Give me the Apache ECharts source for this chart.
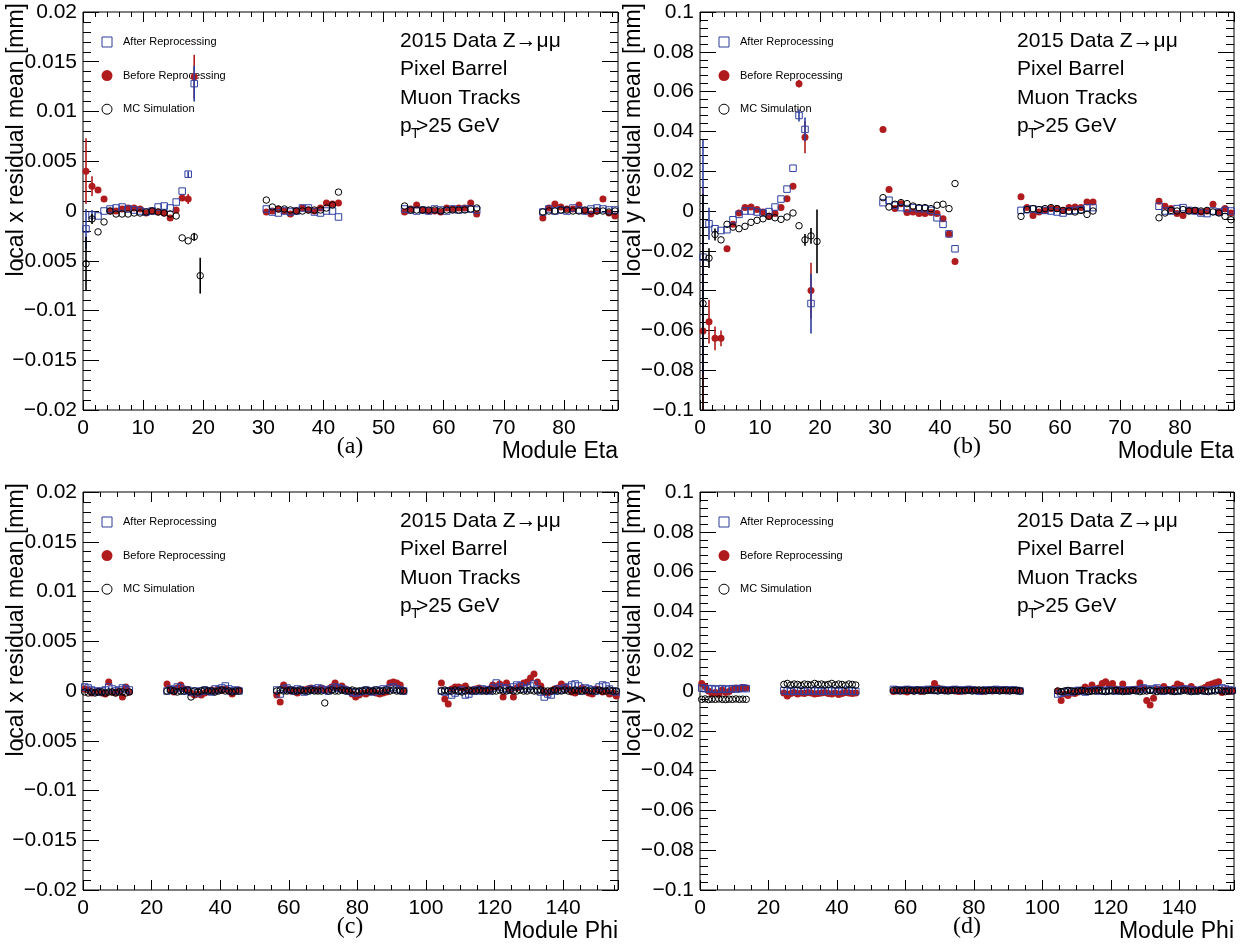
<!DOCTYPE html>
<html><head><meta charset="utf-8">
<script src="https://cdn.jsdelivr.net/npm/echarts@6/dist/echarts.min.js"></script>
<style>html,body{margin:0;padding:0;background:#fff}#c{width:1246px;height:947px}</style>
</head><body><div id="c"></div>
<script>
// ---------------- DATA ----------------
// occupied bins (module index ranges)
const etaGroups = [[0,19],[30,42],[53,65],[76,88]];
const phiGroups = [[0,13],[24,45],[56,93],[104,155]];

// (a) local x residual mean vs module eta [mm]
const afterA = [
  -0.0018,-0.0004,-0.0005,0.0000,0.0002,0.0003,0.0004,0.0002,0.0001,0.0000,-0.0001,0.0000,0.0004,0.0005,0.0003,0.0009,0.0020,0.0037,0.0128,null,
  0.0002,-0.0001,-0.0002,0.0000,-0.0001,0.0000,0.0003,0.0003,-0.0001,-0.0002,0.0000,0.0000,-0.0006,
  0.0002,0.0001,0.0000,0.0001,0.0000,0.0002,0.0001,0.0000,0.0002,0.0001,0.0002,0.0002,0.0001,
  -0.0001,0.0002,0.0000,0.0001,0.0000,0.0003,0.0001,0.0000,0.0002,0.0003,0.0002,0.0001,0.0001];
const beforeA = [
  0.0040,0.0025,0.0021,0.0012,0.0000,0.0000,0.0002,0.0003,0.0003,0.0002,-0.0002,0.0000,-0.0001,-0.0002,-0.0007,0.0001,0.0013,0.0012,0.0135,null,
  -0.0001,0.0000,0.0002,0.0000,-0.0003,0.0000,0.0003,0.0001,0.0000,0.0003,0.0008,0.0007,0.0008,
  -0.0001,0.0002,0.0006,0.0001,0.0000,0.0000,-0.0001,0.0003,0.0002,0.0003,0.0003,0.0008,-0.0003,
  -0.0007,0.0003,0.0007,0.0004,0.0002,0.0002,0.0006,0.0000,-0.0003,0.0000,0.0012,-0.0002,-0.0005];
const mcA = [
  -0.0053,-0.0008,-0.0021,-0.0011,0.0000,-0.0003,-0.0003,-0.0003,-0.0002,-0.0002,-0.0001,0.0000,-0.0001,-0.0002,-0.0003,-0.0005,-0.0027,-0.0030,-0.0026,-0.0065,
  0.0011,0.0004,0.0002,0.0002,0.0001,0.0000,0.0000,0.0001,0.0001,0.0001,0.0003,0.0006,0.0019,
  0.0005,0.0001,0.0001,0.0001,0.0001,0.0001,0.0000,0.0001,0.0001,0.0001,0.0001,0.0002,0.0003,
  -0.0001,0.0000,0.0000,0.0001,0.0001,0.0000,0.0000,0.0001,0.0000,0.0000,0.0000,-0.0001,0.0000];
const errAfterA  = [[0,0.0020],[1,0.0005],[17,0.0003],[18,0.0018]];
const errBeforeA = [[0,0.0033],[1,0.0010],[17,0.0005],[18,0.0022]];
const errMcA     = [[0,0.0027],[1,0.0005],[18,0.0004],[19,0.0018]];

// (b) local y residual mean vs module eta [mm]
const afterB = [
  -0.0232,-0.0064,-0.0089,-0.0098,-0.0094,-0.0044,-0.0017,0.0000,0.0000,-0.0005,-0.0010,-0.0003,0.0020,0.0060,0.0110,0.0215,0.0480,0.0410,-0.0465,null,
  0.0042,0.0054,0.0029,0.0017,0.0012,0.0017,0.0012,0.0012,0.0003,-0.0034,-0.0067,-0.0115,-0.0190,
  0.0003,0.0007,0.0010,0.0005,0.0003,0.0000,-0.0005,-0.0010,0.0000,0.0003,0.0007,0.0017,0.0017,
  0.0024,0.0000,0.0000,0.0012,0.0017,0.0003,0.0000,-0.0010,-0.0013,0.0000,-0.0005,0.0003,0.0000];
const beforeB = [
  -0.0603,-0.0556,-0.0640,-0.0640,-0.0190,-0.0067,-0.0010,0.0017,0.0020,0.0008,-0.0005,-0.0027,-0.0013,0.0017,0.0062,0.0125,0.0640,0.0370,-0.0400,null,
  0.0410,0.0108,0.0012,0.0037,-0.0008,-0.0005,-0.0013,-0.0013,-0.0008,-0.0013,-0.0039,-0.0115,-0.0254,
  0.0071,0.0017,-0.0022,-0.0005,0.0003,0.0012,0.0012,0.0003,0.0017,0.0020,0.0017,0.0045,0.0045,
  0.0049,0.0024,0.0012,-0.0013,-0.0022,0.0003,0.0000,-0.0005,0.0000,0.0034,-0.0005,0.0012,-0.0010];
const mcB = [
  -0.0465,-0.0237,-0.0118,-0.0145,-0.0067,-0.0081,-0.0089,-0.0077,-0.0057,-0.0047,-0.0039,-0.0027,-0.0034,-0.0042,-0.0030,-0.0010,-0.0074,-0.0145,-0.0125,-0.0153,
  0.0067,0.0020,0.0034,0.0042,0.0037,0.0025,0.0017,0.0017,0.0012,0.0029,0.0034,0.0012,0.0138,
  -0.0027,0.0007,0.0012,0.0007,0.0012,0.0017,0.0012,0.0003,0.0000,-0.0005,0.0003,-0.0017,0.0000,
  -0.0034,-0.0010,0.0003,0.0000,0.0007,0.0000,0.0003,0.0000,0.0003,-0.0005,-0.0010,-0.0027,-0.0044];
const errAfterB  = [[0,0.0590],[1,0.0080],[16,0.0030],[17,0.0060],[18,0.0150]];
const errBeforeB = [[0,0.0720],[1,0.0110],[2,0.0060],[3,0.0040],[16,0.0020],[17,0.0080],[18,0.0140]];
const errMcB     = [[0,0.0550],[1,0.0050],[2,0.0030],[17,0.0030],[18,0.0040],[19,0.0160]];

// (c) local x residual mean vs module phi [mm]
const afterC = [
  0.0004,0.0003,0.0001,0.0000,-0.0001,0.0000,0.0001,0.0004,0.0002,0.0000,0.0001,0.0003,0.0002,0.0001,
  0.0000,0.0002,0.0001,0.0004,0.0003,0.0000,0.0001,-0.0001,0.0000,-0.0002,0.0000,0.0001,0.0000,-0.0001,0.0002,0.0001,0.0003,0.0005,0.0002,0.0000,0.0001,0.0000,
  0.0001,-0.0003,0.0002,0.0003,0.0001,0.0000,0.0002,0.0001,-0.0001,0.0000,0.0002,0.0001,0.0003,0.0002,0.0001,0.0000,0.0002,0.0004,0.0003,0.0002,0.0001,0.0000,-0.0001,-0.0002,-0.0001,0.0000,0.0001,0.0000,-0.0001,0.0001,0.0000,0.0002,0.0001,0.0003,0.0004,0.0002,0.0001,0.0000,
  0.0000,-0.0001,0.0000,-0.0004,-0.0002,0.0000,0.0001,-0.0004,-0.0003,0.0000,0.0001,0.0000,0.0002,0.0001,0.0000,0.0003,0.0008,0.0004,0.0002,0.0003,0.0001,0.0004,0.0006,0.0005,0.0002,0.0003,0.0005,0.0007,0.0002,-0.0001,-0.0006,-0.0003,-0.0004,0.0000,0.0002,0.0001,0.0003,0.0004,0.0006,0.0007,0.0005,0.0000,0.0003,0.0002,0.0001,0.0000,0.0004,0.0006,0.0005,0.0002,0.0000,-0.0001];
const beforeC = [
  0.0002,0.0001,-0.0002,-0.0001,0.0000,-0.0002,-0.0003,0.0009,-0.0001,-0.0002,0.0000,-0.0006,0.0004,-0.0001,
  0.0007,0.0001,-0.0001,0.0003,0.0006,0.0002,0.0001,-0.0002,-0.0004,-0.0003,-0.0004,-0.0002,0.0000,0.0001,0.0000,0.0002,0.0001,0.0002,0.0000,-0.0003,0.0000,0.0001,
  -0.0004,-0.0011,0.0006,0.0002,0.0000,0.0001,-0.0002,0.0000,0.0001,0.0002,0.0003,0.0002,0.0001,0.0003,0.0001,0.0002,0.0004,0.0008,0.0003,0.0005,0.0002,0.0000,-0.0003,-0.0006,-0.0004,-0.0002,-0.0003,-0.0001,0.0000,-0.0002,-0.0003,-0.0002,-0.0001,0.0008,0.0009,0.0008,0.0006,0.0000,
  0.0008,-0.0008,-0.0013,0.0002,0.0004,0.0004,0.0003,0.0005,0.0000,0.0001,0.0002,0.0003,0.0001,0.0000,0.0002,0.0006,0.0004,0.0007,-0.0006,0.0008,0.0002,-0.0006,0.0003,0.0005,0.0008,0.0009,0.0013,0.0017,0.0009,0.0005,-0.0001,-0.0002,0.0000,0.0002,0.0003,0.0007,0.0004,0.0002,-0.0001,-0.0002,0.0001,0.0003,0.0000,-0.0002,-0.0003,0.0002,0.0001,-0.0001,0.0000,-0.0003,-0.0002,-0.0005];
const mcC = [
  -0.0001,-0.0002,-0.0001,-0.0002,-0.0001,-0.0001,-0.0002,-0.0001,-0.0001,-0.0002,-0.0001,-0.0001,-0.0002,-0.0001,
  0.0000,0.0001,0.0000,-0.0001,0.0000,0.0000,0.0001,-0.0006,0.0000,-0.0001,0.0000,0.0001,0.0000,0.0000,-0.0001,0.0000,0.0001,0.0000,0.0000,-0.0001,0.0000,0.0000,
  0.0000,0.0001,0.0000,0.0000,0.0001,0.0000,0.0000,0.0001,0.0000,0.0000,0.0001,0.0000,0.0000,0.0000,-0.0012,0.0000,0.0001,0.0000,0.0000,0.0001,0.0000,0.0000,0.0001,0.0000,0.0000,0.0000,0.0001,0.0000,0.0000,0.0001,0.0000,0.0000,0.0001,0.0000,0.0001,0.0000,0.0000,0.0000,
  0.0000,0.0001,0.0000,0.0000,0.0001,0.0000,-0.0001,0.0000,0.0001,0.0000,0.0000,0.0001,0.0000,0.0000,0.0001,0.0000,0.0000,0.0001,0.0000,0.0000,0.0001,0.0000,0.0000,0.0001,0.0000,0.0000,0.0001,0.0000,0.0000,0.0001,0.0000,0.0000,0.0000,0.0001,0.0000,0.0000,0.0001,0.0000,0.0000,0.0001,0.0000,0.0000,0.0001,0.0000,0.0000,0.0000,0.0001,0.0000,0.0000,0.0001,0.0000,0.0000];

// (d) local y residual mean vs module phi [mm]
const afterD = [
  0.0015,0.0012,0.0010,0.0012,0.0008,0.0010,0.0012,0.0008,0.0010,0.0012,0.0010,0.0012,0.0015,0.0012,
  0.0002,0.0000,-0.0002,0.0000,0.0002,0.0000,-0.0002,0.0000,0.0002,0.0000,0.0000,-0.0002,0.0000,0.0002,0.0000,0.0000,-0.0002,0.0000,0.0002,0.0000,0.0000,-0.0002,
  0.0008,0.0005,0.0003,0.0005,0.0008,0.0005,0.0003,0.0005,0.0003,0.0005,0.0008,0.0005,0.0003,0.0005,0.0008,0.0005,0.0003,0.0005,0.0008,0.0005,0.0003,0.0005,0.0008,0.0005,0.0003,0.0000,0.0003,0.0005,0.0003,0.0005,0.0008,0.0005,0.0003,0.0005,0.0003,0.0005,0.0003,0.0000,
  -0.0015,-0.0010,-0.0005,0.0000,-0.0005,0.0000,0.0003,0.0000,-0.0005,0.0000,0.0003,0.0005,0.0000,0.0003,0.0000,0.0005,0.0003,0.0000,0.0005,0.0003,0.0000,0.0005,0.0003,0.0005,0.0008,0.0015,0.0010,0.0005,0.0010,0.0015,0.0005,0.0000,0.0003,0.0005,0.0003,0.0000,0.0005,0.0010,0.0008,0.0005,0.0000,0.0003,0.0005,0.0000,0.0003,0.0005,0.0008,0.0010,0.0015,0.0010,0.0005,0.0003];
const beforeD = [
  0.0038,0.0022,0.0000,-0.0012,-0.0008,-0.0015,0.0005,-0.0008,-0.0003,0.0008,0.0015,0.0010,0.0018,0.0015,
  -0.0010,-0.0025,-0.0012,-0.0008,-0.0015,-0.0010,-0.0012,-0.0008,-0.0010,-0.0015,-0.0012,-0.0010,-0.0008,-0.0012,-0.0015,-0.0010,-0.0018,-0.0012,-0.0008,-0.0010,-0.0012,-0.0010,
  -0.0003,0.0000,0.0005,0.0000,-0.0005,0.0003,0.0000,0.0005,-0.0003,0.0000,0.0005,0.0010,0.0038,0.0015,0.0005,0.0000,0.0003,0.0008,0.0000,-0.0003,0.0005,0.0000,0.0003,0.0008,0.0005,0.0000,-0.0003,0.0003,0.0005,0.0000,0.0003,0.0008,0.0005,0.0000,0.0003,0.0005,0.0000,0.0003,
  0.0000,-0.0048,-0.0015,-0.0022,-0.0010,-0.0012,-0.0005,0.0000,0.0020,0.0008,0.0030,0.0010,0.0015,0.0038,0.0047,0.0030,0.0038,0.0010,0.0005,0.0035,0.0005,0.0000,0.0008,0.0010,0.0040,0.0012,-0.0048,-0.0070,-0.0037,0.0010,0.0005,0.0022,0.0008,0.0000,0.0015,0.0035,0.0028,0.0010,0.0005,0.0022,0.0008,0.0000,0.0010,0.0018,0.0030,0.0035,0.0042,0.0047,-0.0008,0.0005,-0.0003,0.0000];
const mcD = [
  -0.0042,-0.0040,-0.0043,-0.0041,-0.0042,-0.0040,-0.0042,-0.0043,-0.0041,-0.0042,-0.0040,-0.0042,-0.0041,-0.0042,
  0.0033,0.0038,0.0030,0.0035,0.0033,0.0028,0.0035,0.0033,0.0030,0.0038,0.0033,0.0035,0.0030,0.0033,0.0038,0.0030,0.0035,0.0033,0.0028,0.0035,0.0033,0.0030,
  0.0003,0.0005,0.0000,0.0003,0.0005,0.0003,0.0000,0.0005,0.0003,0.0000,0.0003,0.0005,0.0003,0.0000,0.0005,0.0003,0.0000,0.0003,0.0005,0.0003,0.0000,0.0003,0.0005,0.0000,0.0003,0.0005,0.0003,0.0000,0.0003,0.0005,0.0003,0.0000,0.0003,0.0005,0.0000,0.0003,0.0003,0.0000,
  0.0000,-0.0003,0.0000,0.0003,0.0000,-0.0003,0.0000,0.0003,0.0000,-0.0003,0.0000,0.0000,0.0003,0.0000,-0.0003,0.0000,0.0000,0.0003,0.0000,-0.0003,0.0000,0.0000,0.0003,0.0000,-0.0003,0.0000,0.0000,0.0003,0.0000,-0.0003,0.0000,0.0000,0.0003,0.0000,-0.0003,0.0000,0.0000,0.0003,0.0000,-0.0003,0.0000,0.0000,0.0003,0.0000,-0.0003,0.0000,0.0000,0.0003,0.0000,-0.0003,0.0000,0.0000];

const legendLabels = ['After Reprocessing', 'Before Reprocessing', 'MC Simulation'];
const infoLines = ['2015 Data Z\u2192\u03bc\u03bc', 'Pixel Barrel', 'Muon Tracks'];
const ptLine = ['p', 'T', '>25 GeV'];

// ---------------- BUILD ----------------
const BLUE = '#2f3f9f', RED = '#b01c1e', BLACK = '#000';
const FONT = '"Liberation Sans", Arial, Helvetica, sans-serif';

function toPoints(groups, vals) {
  const out = []; let k = 0;
  for (const [a, b] of groups) for (let i = a; i <= b; i++) { const v = vals[k++]; if (v != null) out.push([i + 0.5, v]); }
  return out;
}
function errPoints(groups, vals, errs) {
  const pts = toPoints(groups, vals);
  return errs.map(([bin, e]) => { const p = pts.find(q => q[0] === bin + 0.5); return p ? [p[0], p[1], e] : null; }).filter(Boolean);
}
const fmt = v => String(+(+v).toFixed(4)).replace('-', '\u2212');

const panels = [
  {left: 83, top: 12, w: 535, h: 398, xmax: 89, xint: 10, xminor: 5, ymax: 0.02, yint: 0.005, groups: etaGroups,
   after: afterA, before: beforeA, mc: mcA, eA: errAfterA, eB: errBeforeA, eM: errMcA,
   ytitle: 'local x residual mean [mm]', xtitle: 'Module Eta', tag: '(a)'},
  {left: 700, top: 12, w: 534, h: 398, xmax: 89, xint: 10, xminor: 5, ymax: 0.1, yint: 0.02, groups: etaGroups,
   after: afterB, before: beforeB, mc: mcB, eA: errAfterB, eB: errBeforeB, eM: errMcB,
   ytitle: 'local y residual mean [mm]', xtitle: 'Module Eta', tag: '(b)'},
  {left: 83, top: 492, w: 535, h: 398, xmax: 156, xint: 20, xminor: 4, ymax: 0.02, yint: 0.005, groups: phiGroups,
   after: afterC, before: beforeC, mc: mcC, eA: [], eB: [], eM: [],
   ytitle: 'local x residual mean [mm]', xtitle: 'Module Phi', tag: '(c)'},
  {left: 700, top: 492, w: 534, h: 398, xmax: 156, xint: 20, xminor: 4, ymax: 0.1, yint: 0.02, groups: phiGroups,
   after: afterD, before: beforeD, mc: mcD, eA: [], eB: [], eM: [],
   ytitle: 'local y residual mean [mm]', xtitle: 'Module Phi', tag: '(d)'}
];

const grid = [], xAxis = [], yAxis = [], series = [], graphic = [];
panels.forEach((p, g) => {
  grid.push({left: p.left, top: p.top, width: p.w, height: p.h, show: true, borderColor: '#000', borderWidth: 1, backgroundColor: 'transparent'});
  const xBase = {type: 'value', gridIndex: g, min: 0, max: p.xmax, interval: p.xint,
    splitLine: {show: false}, axisLine: {show: false, onZero: false},
    axisTick: {show: true, inside: true, length: 10, lineStyle: {color: '#000', width: 1}},
    minorTick: {show: true, splitNumber: p.xminor, length: 5, lineStyle: {color: '#000', width: 1}},
    minorSplitLine: {show: false}};
  xAxis.push(Object.assign({}, xBase, {position: 'bottom',
    axisLabel: {show: true, fontFamily: FONT, fontSize: 21, color: '#000', margin: 8, showMaxLabel: false,
      formatter: v => (Math.abs(v % p.xint) < 1e-9 ? fmt(v) : '')}}));
  xAxis.push(Object.assign({}, xBase, {position: 'top', axisLabel: {show: false}}));
  const yBase = {type: 'value', gridIndex: g, min: -p.ymax, max: p.ymax, interval: p.yint,
    splitLine: {show: false}, axisLine: {show: false, onZero: false},
    axisTick: {show: true, inside: true, length: 16, lineStyle: {color: '#000', width: 1}},
    minorTick: {show: true, splitNumber: 5, length: 8, lineStyle: {color: '#000', width: 1}},
    minorSplitLine: {show: false}};
  yAxis.push(Object.assign({}, yBase, {position: 'left',
    axisLabel: {show: true, fontFamily: FONT, fontSize: 21, color: '#000', margin: 6, formatter: fmt}}));
  yAxis.push(Object.assign({}, yBase, {position: 'right', axisLabel: {show: false}}));

  const ax = {xAxisIndex: 2 * g, yAxisIndex: 2 * g};
  const ymin = -p.ymax, ymax = p.ymax;
  const errSer = (data, color, z) => Object.assign({type: 'custom', data, z, silent: true, clip: true,
    renderItem: (params, api) => {
      const x = api.value(0), y = api.value(1), e = api.value(2);
      const lo = Math.max(y - e, ymin), hi = Math.min(y + e, ymax);
      const a = api.coord([x, lo]), b = api.coord([x, hi]);
      return {type: 'line', shape: {x1: a[0], y1: a[1], x2: b[0], y2: b[1]}, style: {stroke: color, lineWidth: 1.6}};
    }}, ax);
  // Before (red)
  series.push(errSer(errPoints(p.groups, p.before, p.eB), RED, 2));
  series.push(Object.assign({type: 'scatter', name: 'Before', z: 3, silent: true, symbol: 'circle', symbolSize: 7,
    itemStyle: {color: RED, opacity: 1}, data: toPoints(p.groups, p.before)}, ax));
  // After (blue)
  series.push(errSer(errPoints(p.groups, p.after, p.eA), BLUE, 4));
  series.push(Object.assign({type: 'scatter', name: 'After', z: 5, silent: true, symbol: 'rect', symbolSize: 6.5,
    itemStyle: {color: 'rgba(0,0,0,0)', borderColor: BLUE, borderWidth: 1, opacity: 1}, data: toPoints(p.groups, p.after)}, ax));
  // MC (black open circles)
  series.push(errSer(errPoints(p.groups, p.mc, p.eM), BLACK, 6));
  series.push(Object.assign({type: 'scatter', name: 'MC', z: 7, silent: true, symbol: 'circle', symbolSize: 6.5,
    itemStyle: {color: 'rgba(0,0,0,0)', borderColor: BLACK, borderWidth: 1, opacity: 1}, data: toPoints(p.groups, p.mc)}, ax));

  // legend (manual, ROOT-style)
  const lx = p.left + 24, ly = p.top + 30, dy = 33.6;
  graphic.push({type: 'rect', shape: {x: lx - 5, y: ly - 5, width: 10, height: 10}, style: {fill: 'none', stroke: BLUE, lineWidth: 1}});
  graphic.push({type: 'circle', shape: {cx: lx, cy: ly + dy, r: 5.5}, style: {fill: RED}});
  graphic.push({type: 'circle', shape: {cx: lx, cy: ly + 2 * dy, r: 5}, style: {fill: 'none', stroke: '#000', lineWidth: 1}});
  legendLabels.forEach((t, i) => graphic.push({type: 'text', x: p.left + 40, y: ly + i * dy,
    style: {text: t, font: '11px ' + FONT, fill: '#000', textAlign: 'left', textVerticalAlign: 'middle'}}));
  // info text
  const tx = p.left + 317;
  infoLines.forEach((t, i) => graphic.push({type: 'text', x: tx, y: p.top + 29 + i * 28.4,
    style: {text: t, font: '21px ' + FONT, fill: '#000', textAlign: 'left', textVerticalAlign: 'middle'}}));
  const py = p.top + 29 + 3 * 28.4;
  graphic.push({type: 'text', x: tx, y: py, style: {text: ptLine[0], font: '21px ' + FONT, fill: '#000', textAlign: 'left', textVerticalAlign: 'middle'}});
  graphic.push({type: 'text', x: tx + 11, y: py + 8, style: {text: ptLine[1], font: '14px ' + FONT, fill: '#000', textAlign: 'left', textVerticalAlign: 'middle'}});
  graphic.push({type: 'text', x: tx + 16, y: py, style: {text: ptLine[2], font: '21px ' + FONT, fill: '#000', textAlign: 'left', textVerticalAlign: 'middle'}});
  // axis titles
  graphic.push({type: 'text', x: p.left - 66, y: p.top - 9, rotation: Math.PI / 2,
    style: {text: p.ytitle, font: '23px ' + FONT, fill: '#000', textAlign: 'right', textVerticalAlign: 'middle'}});
  graphic.push({type: 'text', x: p.left + p.w, y: p.top + p.h + 42,
    style: {text: p.xtitle, font: '23px ' + FONT, fill: '#000', textAlign: 'right', textVerticalAlign: 'middle'}});
  graphic.push({type: 'text', x: p.left + 267, y: p.top + p.h + 37,
    style: {text: p.tag, font: '24px "Liberation Serif", "DejaVu Serif", serif', fill: '#000', textAlign: 'center', textVerticalAlign: 'middle'}});
});

const chart = echarts.init(document.getElementById('c'), null, {renderer: 'canvas'});
chart.setOption({animation: false, backgroundColor: '#fff', grid, xAxis, yAxis, series, graphic});
</script></body></html>
